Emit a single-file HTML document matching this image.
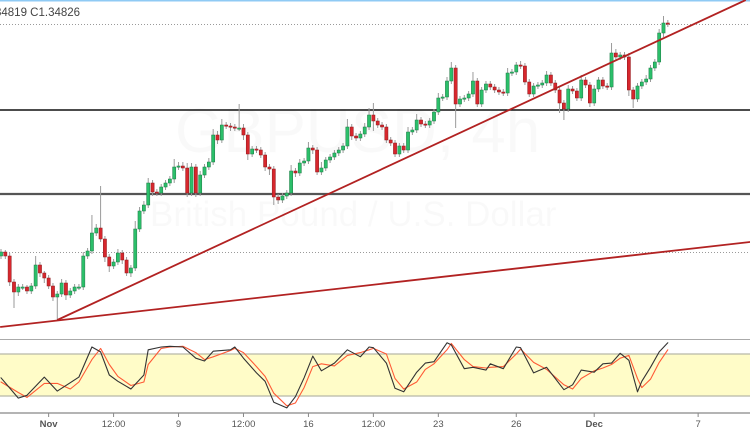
<!DOCTYPE html>
<html><head><meta charset="utf-8"><style>
html,body{margin:0;padding:0;background:#fff;}
svg{display:block;font-family:"Liberation Sans",sans-serif;}
</style></head><body>
<svg id="chart" width="750" height="430" viewBox="0 0 750 430" xmlns="http://www.w3.org/2000/svg">
<rect x="0" y="0" width="750" height="430" fill="#fff"/>
<rect x="0" y="0" width="750" height="1.5" fill="#8fcaf4"/>
<text x="175" y="152" font-size="62" fill="#000" fill-opacity="0.025">GBPUSD, 4h</text>
<text x="150" y="226" font-size="35" fill="#000" fill-opacity="0.025">British Pound / U.S. Dollar</text>
<text x="-5" y="16" font-size="11.5" fill="#444">34819  C1.34826</text>
<g id="main"></g>
<g id="stoch"></g>
<g id="xaxis"></g>
</svg>
<script>
// ---- data ----
const firstOpen = 1.3251;
const closes = [1.3255,1.3251,1.3225,1.3215,1.3220,1.3220,1.3216,1.3221,1.3242,1.3234,
1.3229,1.3221,1.3210,1.3213,1.3224,1.3212,1.3216,1.3220,1.3220,1.3251,
1.3256,1.3274,1.3279,1.3268,1.3250,1.3241,1.3245,1.3254,1.3247,1.3234,
1.3239,1.3278,1.3296,1.3302,1.3324,1.3315,1.3314,1.3320,1.3324,1.3328,
1.3340,1.3341,1.3339,1.3314,1.3340,1.3314,1.3332,1.3340,1.3345,1.3372,
1.3367,1.3382,1.3381,1.3380,1.3379,1.3379,1.3372,1.3353,1.3358,1.3357,
1.3352,1.3340,1.3338,1.3310,1.3307,1.3311,1.3314,1.3336,1.3334,1.3344,
1.3346,1.3359,1.3357,1.3335,1.3339,1.3347,1.3350,1.3354,1.3357,1.3361,
1.3380,1.3371,1.3369,1.3373,1.3380,1.3392,1.3386,1.3382,1.3380,1.3367,
1.3364,1.3353,1.3361,1.3357,1.3375,1.3377,1.3387,1.3383,1.3382,1.3386,
1.3395,1.3409,1.3410,1.3426,1.3439,1.3403,1.3408,1.3409,1.3413,1.3426,
1.3403,1.3417,1.3423,1.3420,1.3417,1.3415,1.3414,1.3434,1.3435,1.3442,
1.3441,1.3425,1.3413,1.3421,1.3422,1.3424,1.3432,1.3424,1.3417,1.3404,
1.3398,1.3418,1.3416,1.3409,1.3427,1.3422,1.3404,1.3418,1.3427,1.3421,
1.3420,1.3454,1.3450,1.3452,1.3450,1.3417,1.3408,1.3421,1.3425,1.3428,
1.3439,1.3445,1.3474,1.3484,1.3483];
const wickHi = [3,2,3,3,3,3,2,3,9,3,2,3,3,3,4,3,3,3,3,4,
3,18,4,42,3,3,3,4,3,3,3,8,4,4,5,3,3,3,3,3,
8,4,4,5,4,3,4,3,4,6,4,6,3,3,3,24,4,3,3,3,
3,3,3,3,3,3,3,6,3,4,3,6,3,3,6,3,3,3,3,3,
8,3,3,3,4,7,12,3,3,3,3,3,3,3,5,3,6,3,3,3,
3,5,3,4,6,3,3,3,3,9,3,3,3,3,3,3,3,5,3,3,
4,3,3,3,3,3,4,3,3,3,3,4,3,3,5,3,3,4,3,3,
3,10,4,3,3,4,3,3,3,4,3,3,4,7,3];
const wickLo = [3,3,4,16,4,3,3,3,3,4,5,3,4,23,3,5,3,3,3,3,
3,3,3,3,5,6,3,3,4,3,4,3,3,3,3,4,3,3,3,3,
4,3,3,4,3,4,3,3,3,3,4,3,3,4,3,3,5,6,3,3,
3,4,6,8,4,3,3,3,4,3,3,3,4,3,3,3,3,3,3,3,
3,4,3,3,3,3,10,3,3,3,3,3,3,3,3,3,3,3,3,3,
3,3,3,3,3,24,3,3,3,3,3,3,3,3,3,3,3,3,3,3,
3,3,3,3,3,3,3,3,3,10,11,3,3,3,3,3,4,3,3,3,
3,3,3,3,3,6,9,3,3,3,3,3,3,4,3];
const levels = [1.3397, 1.3313];
const dottedLevels = [1.3483, 1.3255];
const stochIdx = [0,4,6,10,13,16,18,21,23,25,27,30,33,34,37,39,42,45,47,49,53,54,56,59,61,63,66,68,70,72,74,77,80,83,85,86,89,91,93,96,98,100,103,104,107,109,112,113,116,119,120,123,126,130,132,134,137,139,141,143,145,147,148,150,152,154];
const kVals = [46,17,21,47,27,39,47,90,83,50,41,30,50,86,90,91,90,74,70,84,86,90,74,53,41,11,3,19,46,77,56,67,86,76,90,89,67,31,26,54,67,69,96,93,59,61,57,66,59,90,89,53,61,29,36,57,54,66,67,81,71,26,41,61,83,96];
const dVals = [40,25,18,38,38,30,40,72,88,65,48,35,40,65,88,90,91,82,72,76,85,88,82,62,48,24,6,10,32,62,66,63,78,82,86,88,80,45,30,40,58,66,86,95,72,62,60,61,62,80,87,68,58,36,30,45,56,60,65,74,78,45,32,44,68,86];
const stochBands = [80, 20];
const xTickIdx = [11,26,41,56,71,86,101,119,137,161];
const xTickLabels = ["Nov","12:00","9","12:00","16","12:00","23","26","Dec","7"];
const boldTicks = ["Nov","Dec"];
const trendLines = [[[13,1.3187],[172,1.3507]], [[-0.2,1.3180],[173,1.3265]]];

// ---- scales ----
const X0 = 1, STEP = 4.33;
const xS = i => X0 + i * STEP;
const yS = p => 507 - (p - 1.3) * 10000;
const yK = v => 396 - (v - 20) * 0.7;
const NS = "http://www.w3.org/2000/svg";
function mk(tag, attrs, parent){const e=document.createElementNS(NS,tag);for(const k in attrs)e.setAttribute(k,attrs[k]);parent.appendChild(e);return e;}

const main = document.getElementById('main');
dottedLevels.forEach((p,i)=>{
  const l = mk('line',{x1:0,x2:750,y1:yS(p)+0.5,y2:yS(p)+0.5,stroke:'#9a9a9a','stroke-width':1,'stroke-dasharray':'1,2'},main);
  
  
});
levels.forEach((p,i)=>{
  const l = mk('line',{x1:0,x2:750,y1:yS(p),y2:yS(p),stroke:i===0?'#111':'#555','stroke-width':i===0?1.6:2.2},main);
  
  
});
closes.forEach((c,i)=>{
  const o = i===0 ? firstOpen : closes[i-1];
  const top = Math.max(o,c), bot = Math.min(o,c);
  const hi = top + wickHi[i]/10000, lo = bot - wickLo[i]/10000;
  const x = xS(i);
  const g = mk('g',{},main);
  
  
  mk('line',{x1:x,x2:x,y1:yS(hi),y2:yS(lo),stroke:'#9a9a9a','stroke-width':1},g);
  const up = c >= o;
  const h = Math.max(1.2, yS(bot)-yS(top));
  mk('rect',{x:x-1.6,y:yS(top),width:3.2,height:h,fill:up?'#2bbf6a':'#d7272d',stroke:up?'#1d7a45':'#8e1a1e','stroke-width':0.5},g);
});
trendLines.forEach((t,i)=>{
  const l = mk('line',{x1:xS(t[0][0]),y1:yS(t[0][1]),x2:xS(t[1][0]),y2:yS(t[1][1]),stroke:'#b22222','stroke-width':1.8},main);
  
  
});

const st = document.getElementById('stoch');
const sep = mk('line',{x1:0,x2:750,y1:339.5,y2:339.5,stroke:'#aaa','stroke-width':1},st);


const band = mk('rect',{x:0,y:yK(stochBands[0]),width:750,height:yK(stochBands[1])-yK(stochBands[0]),fill:'#fffcc8'},st);


stochBands.forEach(b=>{
  const l = mk('line',{x1:0,x2:750,y1:yK(b),y2:yK(b),stroke:'#b8b8a8','stroke-width':1.2},st);
  
  
});
function series(vals,color,name){
  const d = vals.map((v,j)=>(j?'L':'M')+xS(stochIdx[j]).toFixed(1)+' '+yK(v).toFixed(1)).join(' ');
  const p = mk('path',{d:d,fill:'none',stroke:color,'stroke-width':1.1,'stroke-linejoin':'round','stroke-linecap':'round'},st);
  
  
}
series(dVals,'#ff5a36','stochastic-d-line');
series(kVals,'#333','stochastic-k-line');

const xa = document.getElementById('xaxis');
const ax = mk('line',{x1:0,x2:750,y1:413,y2:413,stroke:'#888','stroke-width':1.2},xa);


xTickIdx.forEach((ix,j)=>{
  const x = xS(ix);
  mk('line',{x1:x,x2:x,y1:413,y2:417,stroke:'#888','stroke-width':1},xa);
  const t = mk('text',{x:x,y:427,'text-anchor':'middle','font-size':9.5,fill:'#555','font-weight':boldTicks.includes(xTickLabels[j])?'bold':'normal'},xa);
  t.textContent = xTickLabels[j];
  
  
});
</script>
</body></html>
